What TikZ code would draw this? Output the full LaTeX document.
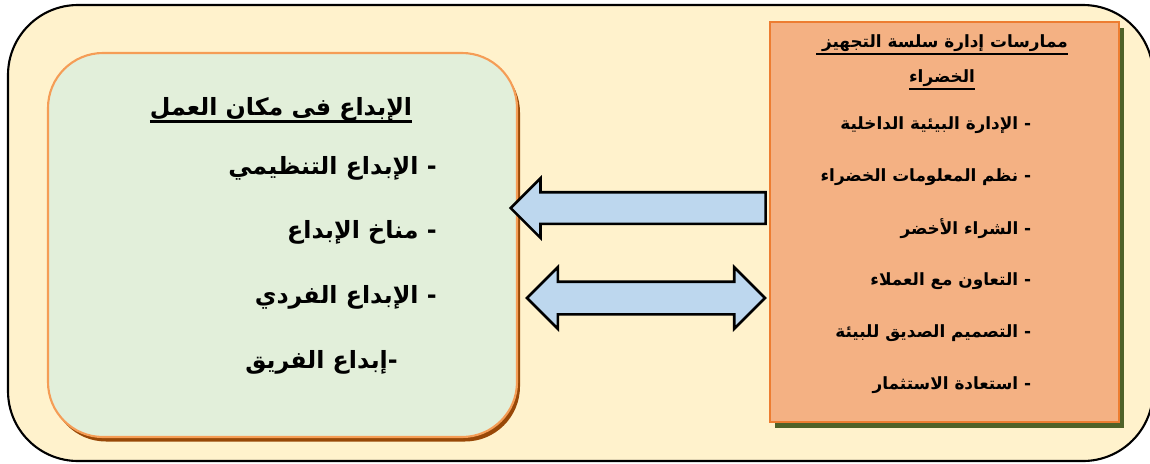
\documentclass[tikz,border=0pt]{standalone}
\usepackage{fontspec}
\newfontfamily\arabicfont[Script=Arabic]{DejaVu Sans}
\TeXXeTstate=1
\usetikzlibrary{shapes.arrows, positioning, calc, shadows}

\definecolor{framefill}{HTML}{FFF2CC}
\definecolor{greenfill}{HTML}{E2EFDA}
\definecolor{greenedge}{HTML}{F59D56}
\definecolor{greenshadow}{HTML}{984807}
\definecolor{orangefill}{HTML}{F4B183}
\definecolor{orangeedge}{HTML}{ED7D31}
\definecolor{orangeshadow}{HTML}{4F6228}
\definecolor{arrowfill}{HTML}{BDD7EE}

% Arabic text, bold, right to left
\newcommand{\artext}[1]{{\arabicfont\bfseries\beginR #1\endR}}
% thick underline
\newsavebox{\ulbox}
\newcommand{\thickul}[1]{\sbox{\ulbox}{#1}\leavevmode\rlap{\rule[-4.5pt]{\wd\ulbox}{1.5pt}}\usebox{\ulbox}}

\begin{document}
\begin{tikzpicture}[
        % --- Styles ---
        frame/.style={draw=black, fill=framefill, line width=1.2pt, rounded corners=1.4cm},
        creativity/.style={rectangle, draw=greenedge, fill=greenfill, line width=1.2pt, minimum width=9.38cm, minimum height=7.68cm, rounded corners=1.1cm, drop shadow={shadow xshift=0.06cm, shadow yshift=-0.09cm, fill=greenshadow, opacity=1}},
        practicebox/.style={rectangle, draw=orangeedge, fill=orangefill, line width=1.2pt, minimum width=6.98cm, minimum height=8cm, drop shadow={shadow xshift=0.09cm, shadow yshift=-0.12cm, fill=orangeshadow, opacity=1}},
        bigtext/.style={font=\fontsize{13.5}{16}\selectfont, inner sep=0pt},
        smalltext/.style={font=\fontsize{9.6}{11.5}\selectfont, inner sep=0pt},
        % --- Arrow Styles ---
        blockarrow/.style={draw=black, fill=arrowfill, line width=1.5pt}
    ]
        \useasboundingbox (0,0) rectangle (23,-9.26);
        \draw[frame] (0.16,-0.10) rectangle (23.06,-9.22);

        % --- Boxes ---
        \node[creativity] (workplace) at (5.65,-4.9) {};
        \node[practicebox] (practices) at (18.89,-4.44) {};

        % --- Left Box Text ---
        \node[bigtext] (worktitle) at (5.62,-2.2) {\thickul{\artext{الإبداع فى مكان العمل}}};
        \node[bigtext, anchor=east] (orgcreat) at (8.74,-3.36) {\artext{- الإبداع التنظيمي}};
        \node[bigtext, anchor=east] (climate) at (8.74,-4.64) {\artext{- مناخ الإبداع}};
        \node[bigtext, anchor=east] (indcreat) at (8.74,-5.94) {\artext{- الإبداع الفردي}};
        \node[bigtext, anchor=east] (teamcreat) at (7.96,-7.24) {\artext{-إبداع الفريق}};

        % --- Right Box Text ---
        \node[smalltext, align=center] (practitle) at (18.84,-1.25) {\thickul{\artext{ممارسات إدارة سلسة التجهيز }}\\[7pt]\thickul{\artext{الخضراء}}};
        \foreach \item [count=\i from 0] in {الإدارة البيئية الداخلية, نظم المعلومات الخضراء, الشراء الأخضر, التعاون مع العملاء, التصميم الصديق للبيئة, استعادة الاستثمار}
            \node[smalltext, anchor=east] (prac\i) at (20.63,-2.5-1.04*\i) {\artext{- \item}};

        % --- Connections ---
        \node[blockarrow, single arrow, shape border rotate=180, inner sep=0.29cm, minimum height=5.1cm, minimum width=1.14cm, single arrow head extend=0.28cm, anchor=tail] (toleft) at ($(practices.west)+(-0.04,0.28)$) {};
        \node[blockarrow, double arrow, inner sep=0.3cm, minimum height=4.76cm, minimum width=1.18cm, double arrow head extend=0.29cm, anchor=east] (bothways) at ($(practices.west)+(-0.04,-1.52)$) {};

    \end{tikzpicture}
\end{document}
